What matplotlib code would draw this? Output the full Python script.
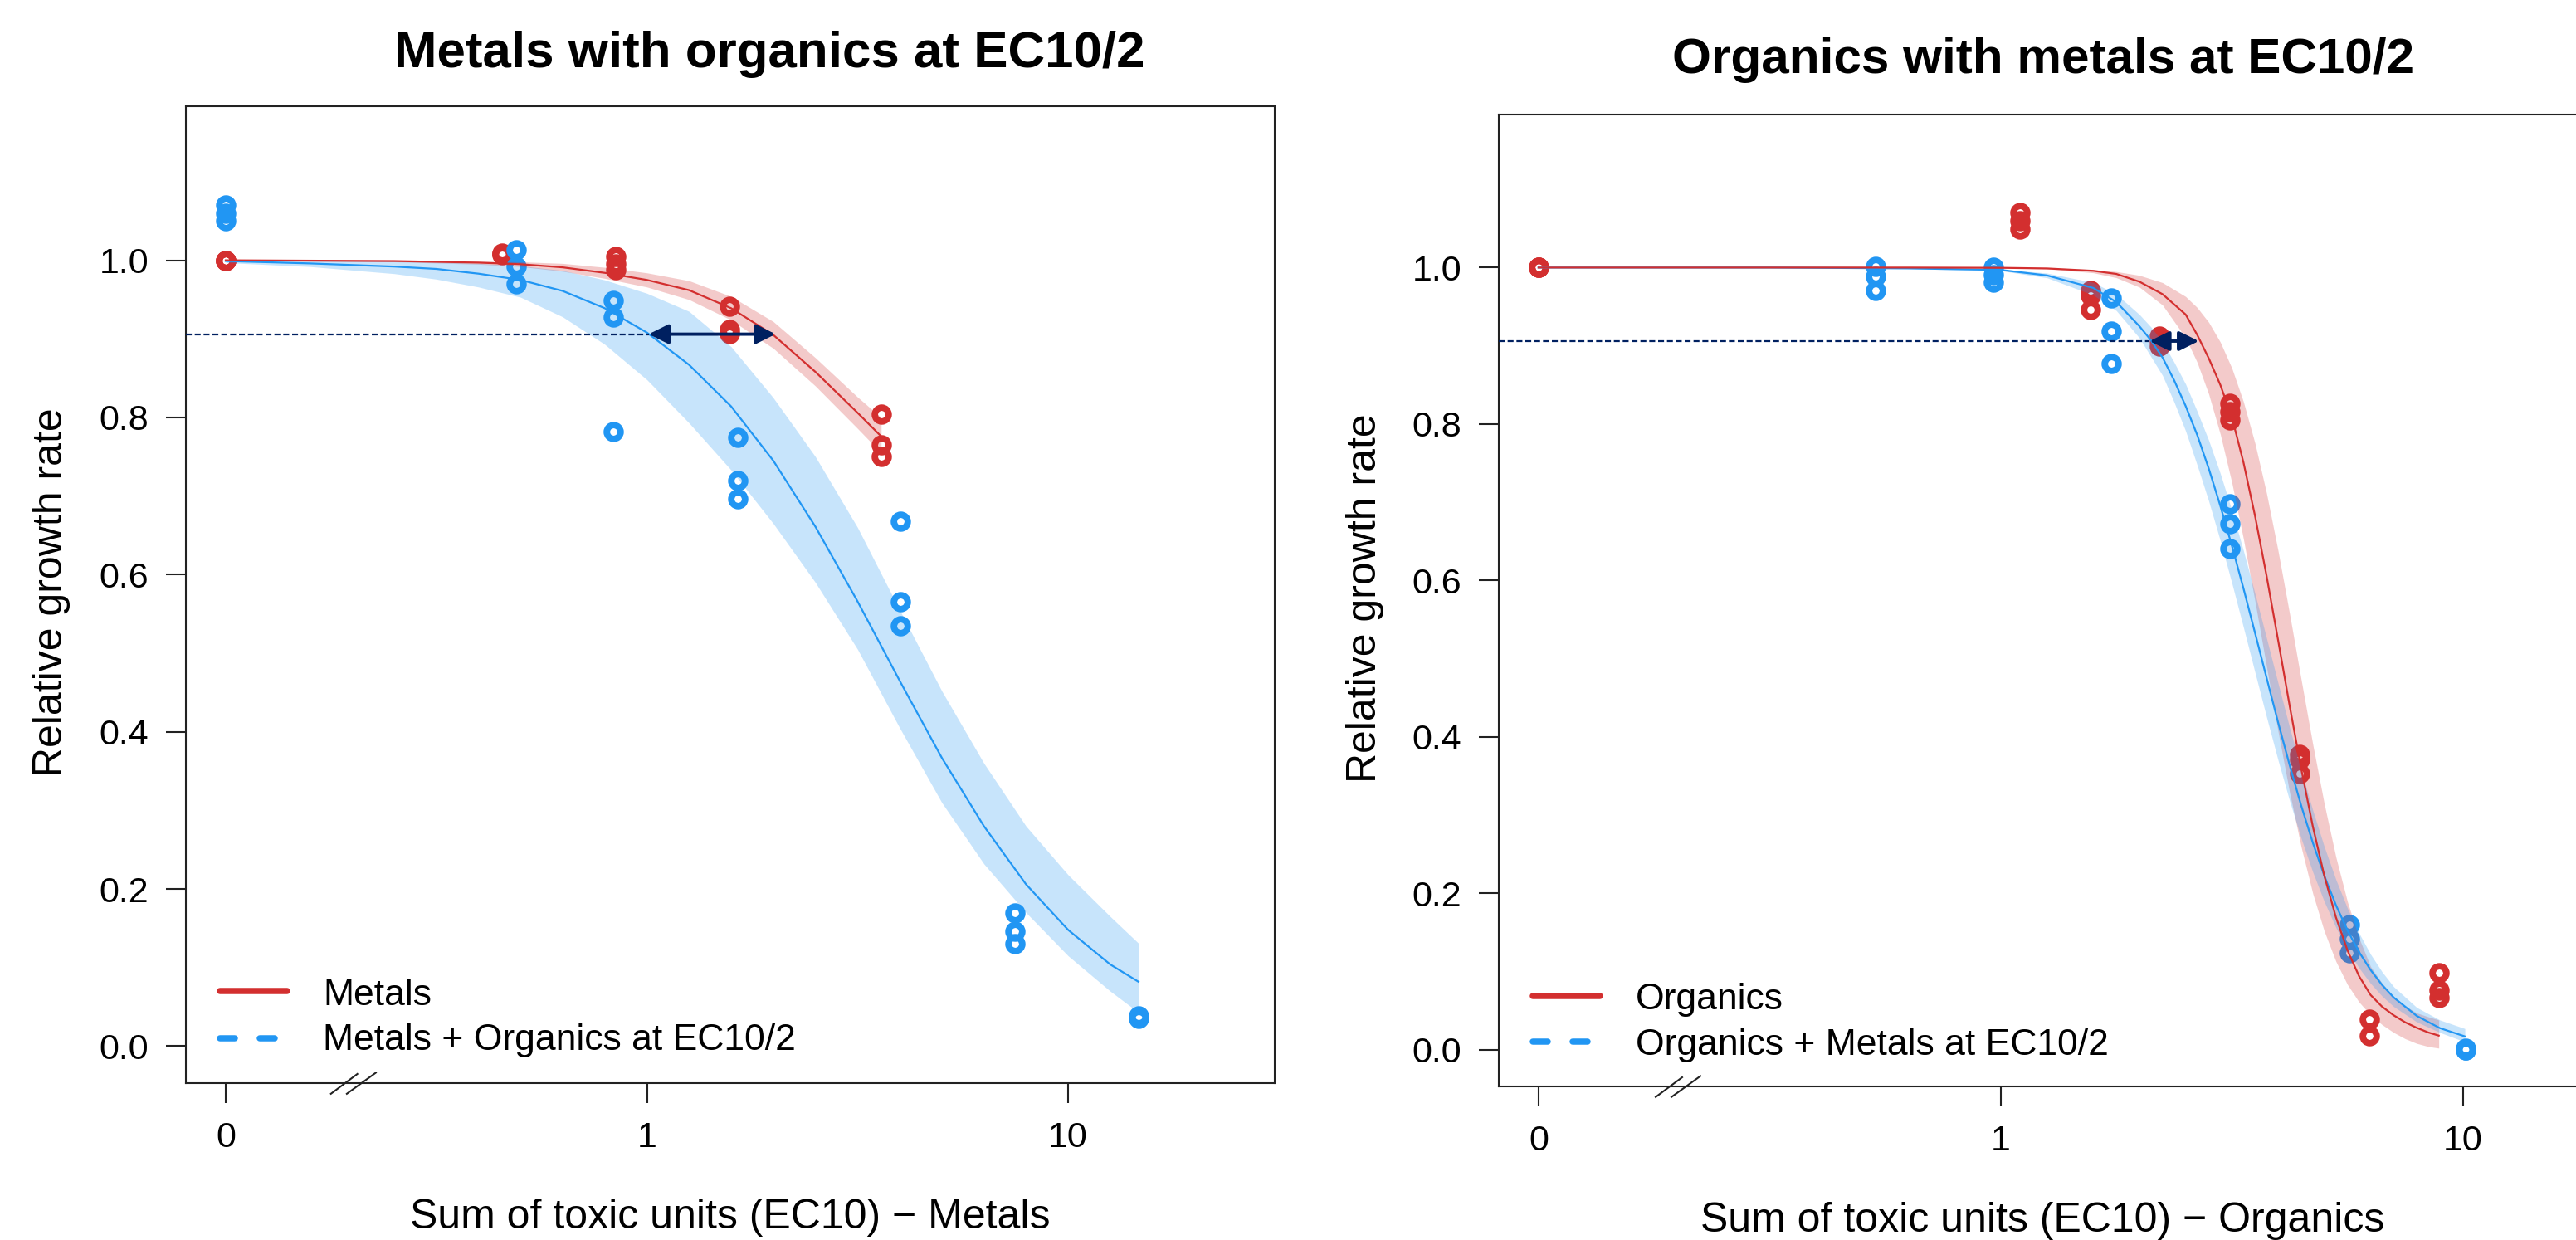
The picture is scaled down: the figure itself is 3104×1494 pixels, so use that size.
import numpy as np
import matplotlib
matplotlib.use('Agg')
import matplotlib.pyplot as plt
from matplotlib.lines import Line2D
from matplotlib.ticker import NullLocator, FixedLocator, FixedFormatter

plt.rcParams['font.family'] = ['Liberation Sans', 'DejaVu Sans']

W, H, DPI = 3104, 1494, 200
RED = '#D32F2F'
BLUE = '#2196F3'
NAVY = '#002060'
ZERO_AT = 0.1      # where dose 0 is drawn on the log axis
LEVEL = 0.906      # EC10 reference level (dashed line)

# ---------------- left panel: metals ----------------
metals_dose = [0, 0.452, 0.845, 1.567, 3.60]
metals_resp = [[1.0, 1.0, 1.0], [1.009, 1.008, 1.007], [1.005, 0.995, 0.988],
               [0.942, 0.912, 0.907], [0.804, 0.765, 0.750]]
metmix_dose = [0, 0.490, 0.831, 1.642, 3.99, 7.46, 14.69]
metmix_resp = [[1.070, 1.060, 1.050], [1.0135, 0.992, 0.970], [0.949, 0.928, 0.7825],
               [0.775, 0.720, 0.696], [0.668, 0.565, 0.535], [0.169, 0.1465, 0.130],
               [0.0387, 0.035, 0.037]]

metals_fit_log10x = [-1.0, -0.8, -0.6, -0.5, -0.4, -0.3, -0.2, -0.1, 0.0, 0.1, 0.2, 0.3, 0.4, 0.5, 0.556]
metals_fit = [1.0, 0.9995, 0.999, 0.998, 0.997, 0.995, 0.991, 0.984, 0.975, 0.962, 0.939, 0.905, 0.858, 0.806, 0.776]
metals_hi = [1.0, 1.0, 1.0, 0.9995, 0.999, 0.998, 0.996, 0.991, 0.984, 0.974, 0.954, 0.922, 0.876, 0.826, 0.800]
metals_lo = [1.0, 0.999, 0.998, 0.9965, 0.995, 0.992, 0.986, 0.977, 0.966, 0.950, 0.924, 0.888, 0.840, 0.786, 0.755]

metmix_fit_log10x = [-1.0, -0.8, -0.6, -0.5, -0.4, -0.3, -0.2, -0.1, 0.0, 0.1, 0.2, 0.3, 0.4, 0.5,
                     0.6, 0.7, 0.8, 0.9, 1.0, 1.1, 1.167]
metmix_fit = [0.999, 0.996, 0.992, 0.989, 0.983, 0.975, 0.961, 0.939, 0.908, 0.867, 0.814, 0.745, 0.661,
              0.566, 0.465, 0.367, 0.280, 0.206, 0.148, 0.104, 0.082]
metmix_hi = [1.0, 0.9995, 0.999, 0.998, 0.996, 0.993, 0.987, 0.975, 0.958, 0.935, 0.890, 0.825, 0.750,
             0.660, 0.555, 0.452, 0.360, 0.280, 0.218, 0.165, 0.131]
metmix_lo = [0.997, 0.992, 0.983, 0.976, 0.966, 0.953, 0.928, 0.893, 0.848, 0.793, 0.733, 0.665, 0.590,
             0.505, 0.405, 0.310, 0.232, 0.170, 0.115, 0.070, 0.043]
metals_shift = [1.01, 2.02]

# ---------------- right panel: organics ----------------
organics_dose = [0, 1.101, 1.561, 2.207, 3.128, 4.43, 6.26, 8.87]
organics_resp = [[1.0, 1.0, 1.0], [1.070, 1.060, 1.049], [0.971, 0.964, 0.946], [0.912, 0.906, 0.900],
                 [0.826, 0.816, 0.805], [0.378, 0.371, 0.353], [0.039, 0.018], [0.098, 0.076, 0.067]]
orgmix_dose = [0.535, 0.965, 1.735, 3.135, 5.67, 10.15]
orgmix_resp = [[1.002, 0.989, 0.971], [1.000, 0.991, 0.981], [0.961, 0.919, 0.877],
               [0.698, 0.673, 0.641], [0.160, 0.142, 0.124], [0.002, 0.0, 0.0]]

organics_fit_log10x = [-1.0, -0.5, -0.2, 0.0, 0.1, 0.2, 0.25, 0.3, 0.35, 0.4, 0.425, 0.45, 0.475, 0.5,
                       0.525, 0.55, 0.575, 0.6, 0.625, 0.65, 0.675, 0.7, 0.725, 0.75, 0.775, 0.8, 0.825,
                       0.85, 0.875, 0.9, 0.925, 0.9476]
organics_fit = [1.0, 1.0, 1.0, 0.9997, 0.9989, 0.9959, 0.9919, 0.982, 0.966, 0.940, 0.914, 0.884, 0.850,
                0.8087, 0.7511, 0.6828, 0.6060, 0.5236, 0.4397, 0.3591, 0.2857, 0.2222, 0.1695, 0.1271,
                0.0942, 0.070, 0.055, 0.044, 0.035, 0.028, 0.022, 0.018]
organics_hi = [1.0, 1.0, 1.0, 0.9998, 0.9993, 0.9974, 0.9949, 0.9901, 0.9808, 0.963, 0.9489, 0.930, 0.9047,
               0.8714, 0.8285, 0.7754, 0.7115, 0.6378, 0.557, 0.473, 0.3906, 0.3141, 0.2464, 0.1893,
               0.1429, 0.1064, 0.085, 0.068, 0.056, 0.047, 0.042, 0.038]
organics_lo = [1.0, 1.0, 1.0, 0.9995, 0.9983, 0.9934, 0.9871, 0.975, 0.9521, 0.9102, 0.8787, 0.8381,
               0.7869, 0.725, 0.6532, 0.5735, 0.4899, 0.4069, 0.3287, 0.2591, 0.1998, 0.1513, 0.113,
               0.0833, 0.061, 0.0443, 0.032, 0.022, 0.014, 0.008, 0.004, 0.002]

orgmix_fit_log10x = [-1.0, -0.5, -0.2, 0.0, 0.1, 0.2, 0.25, 0.3, 0.325, 0.35, 0.375, 0.4, 0.425, 0.45,
                     0.475, 0.5, 0.525, 0.55, 0.575, 0.6, 0.625, 0.65, 0.675, 0.7, 0.725, 0.75, 0.775,
                     0.8, 0.825, 0.85, 0.9, 0.95, 1.004]
orgmix_fit = [1.0, 1.0, 0.999, 0.997, 0.990, 0.974, 0.956, 0.925, 0.907, 0.885, 0.856, 0.823, 0.786, 0.743,
              0.6954, 0.6444, 0.590, 0.5331, 0.4756, 0.4185, 0.3637, 0.312, 0.2648, 0.2223, 0.185,
              0.1527, 0.1251, 0.102, 0.0827, 0.0668, 0.0432, 0.0276, 0.017]
orgmix_hi = [1.0, 1.0, 0.9995, 0.998, 0.993, 0.981, 0.966, 0.940, 0.924, 0.905, 0.879, 0.851, 0.8161,
             0.779, 0.7367, 0.6896, 0.6381, 0.5833, 0.5263, 0.4686, 0.4118, 0.3573, 0.3062, 0.2594,
             0.2176, 0.1809, 0.1491, 0.1221, 0.0995, 0.0806, 0.054, 0.038, 0.027]
orgmix_lo = [1.0, 0.9999, 0.9985, 0.996, 0.987, 0.965, 0.945, 0.910, 0.886, 0.862, 0.828, 0.791, 0.7473,
             0.7013, 0.6507, 0.5966, 0.5401, 0.4825, 0.4254, 0.3701, 0.3181, 0.2702, 0.2272, 0.1892,
             0.1563, 0.1282, 0.1046, 0.0848, 0.0685, 0.0552, 0.0355, 0.022, 0.010]
organics_shift = [2.10, 2.68]

x_ticks = [ZERO_AT, 1, 10]
x_ticklabels = ['0', '1', '10']
y_ticks = [0.0, 0.2, 0.4, 0.6, 0.8, 1.0]
y_ticklabels = ['0.0', '0.2', '0.4', '0.6', '0.8', '1.0']

# ---------------- drawing ----------------
fig = plt.figure(figsize=(W / DPI, H / DPI), dpi=DPI)


def px_axes(l, t, r, b):
    return fig.add_axes([l / W, 1 - b / H, (r - l) / W, (b - t) / H])


def flat(doses, resps):
    xs, ys = [], []
    for d, r in zip(doses, resps):
        for v in r:
            xs.append(ZERO_AT if d == 0 else d)
            ys.append(v)
    return xs, ys


def panel(ax, xlim, a_dose, a_resp, b_dose, b_resp,
          a_lx, a_fit, a_hi, a_lo, b_lx, b_fit, b_hi, b_lo, shift, slashes):
    ax.set_xscale('log')
    ax.set_xlim(*xlim)
    ax.set_ylim(-0.047, 1.196)
    xa, ya = flat(a_dose, a_resp)
    xb, yb = flat(b_dose, b_resp)
    mk = dict(ls='none', marker='o', mfc='none', ms=6.0, mew=2.8, zorder=2)
    ax.plot(xa, ya, mec=RED, **mk)
    ax.plot(xb, yb, mec=BLUE, **mk)
    xa_fit = 10 ** np.array(a_lx)
    xb_fit = 10 ** np.array(b_lx)
    ax.fill_between(xa_fit, a_lo, a_hi, color=RED, alpha=0.25, lw=0, zorder=3)
    ax.fill_between(xb_fit, b_lo, b_hi, color=BLUE, alpha=0.25, lw=0, zorder=3)
    ax.plot(xb_fit, b_fit, color=BLUE, lw=0.8, zorder=4)
    ax.plot(xa_fit, a_fit, color=RED, lw=0.8, zorder=4)
    ax.plot([xlim[0], shift[0]], [LEVEL, LEVEL], color=NAVY, lw=0.8,
            ls=(0, (3.2, 1.6)), zorder=5)
    ax.annotate('', xy=(shift[1], LEVEL), xytext=(shift[0], LEVEL),
                arrowprops=dict(arrowstyle='<|-|>', color=NAVY, lw=1.4,
                                mutation_scale=18, shrinkA=0, shrinkB=0), zorder=6)
    ax.xaxis.set_major_locator(FixedLocator(x_ticks))
    ax.xaxis.set_major_formatter(FixedFormatter(x_ticklabels))
    ax.xaxis.set_minor_locator(NullLocator())
    ax.set_yticks(y_ticks)
    ax.set_yticklabels(y_ticklabels)
    ax.tick_params(direction='out', length=8.6, width=0.75, labelsize=15.5,
                   color='#222222', labelcolor='black')
    ax.tick_params(axis='x', pad=8)
    ax.tick_params(axis='y', pad=7.5)
    for s in ax.spines.values():
        s.set_linewidth(0.75)
        s.set_color('#222222')
    for (x0, y0, x1, y1) in slashes:
        ax.add_line(Line2D([x0, x1], [y0, y1], transform=ax.transAxes, color='#222222',
                           lw=0.75, clip_on=False, zorder=7))


axL = px_axes(224, 128, 1536, 1305)
axR = px_axes(1806, 137.7, 3116, 1309)

panel(axL, (0.08043, 30.93), metals_dose, metals_resp, metmix_dose, metmix_resp,
      metals_fit_log10x, metals_fit, metals_hi, metals_lo,
      metmix_fit_log10x, metmix_fit, metmix_hi, metmix_lo, metals_shift,
      [(0.1332, -0.0109, 0.1575, 0.0094), (0.1478, -0.0109, 0.1745, 0.0107)])
panel(axR, (0.08204, 18.45), organics_dose, organics_resp, orgmix_dose, orgmix_resp,
      organics_fit_log10x, organics_fit, organics_hi, organics_lo,
      orgmix_fit_log10x, orgmix_fit, orgmix_hi, orgmix_lo, organics_shift,
      [(0.1443, -0.0109, 0.1687, 0.0094), (0.1588, -0.0109, 0.1855, 0.0107)])


def ftext(x, y, s, **kw):
    fig.text(x / W, 1 - y / H, s, **kw)


ftext(927, 81, 'Metals with organics at EC10/2', ha='center', va='baseline',
      fontsize=22.3, fontweight='bold')
ftext(2461.6, 88, 'Organics with metals at EC10/2', ha='center', va='baseline',
      fontsize=21.7, fontweight='bold')
ftext(880, 1480.5, 'Sum of toxic units (EC10) \u2212 Metals', ha='center', va='baseline', fontsize=18)
ftext(2461, 1483.7, 'Sum of toxic units (EC10) \u2212 Organics', ha='center', va='baseline', fontsize=18)
ftext(62, 713.6, 'Relative growth rate', ha='center', va='center', rotation=90, fontsize=18)
ftext(1645, 721, 'Relative growth rate', ha='center', va='center', rotation=90, fontsize=18)


def legend_entry(x0, x1, y, color, dashed, tx, ty, label):
    kw = dict(color=color, lw=2.7, transform=fig.transFigure, solid_capstyle='round',
              dash_capstyle='round')
    if dashed:
        kw['ls'] = (0, (2.4, 4.0))
    fig.add_artist(Line2D([x0 / W, x1 / W], [1 - y / H, 1 - y / H], **kw))
    ftext(tx, ty, label, ha='left', va='baseline', fontsize=16)


legend_entry(265, 346, 1194, RED, False, 389, 1211, 'Metals')
legend_entry(265, 346, 1250.7, BLUE, True, 389, 1265.3, 'Metals + Organics at EC10/2')
legend_entry(1847, 1928, 1200, RED, False, 1970.6, 1215.8, 'Organics')
legend_entry(1847, 1928, 1255, BLUE, True, 1970.6, 1270.8, 'Organics + Metals at EC10/2')

fig.savefig('out.png', dpi=DPI)
